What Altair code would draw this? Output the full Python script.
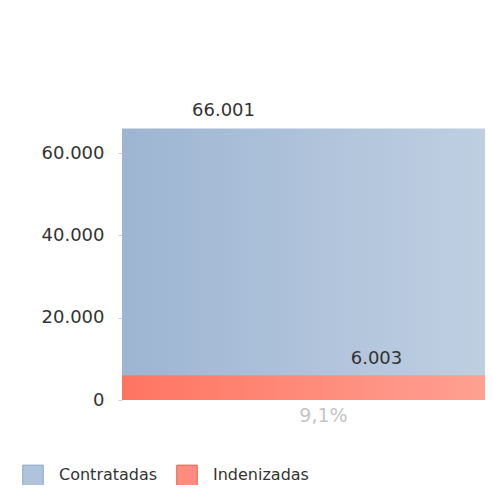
import altair as alt
import pandas as pd

series = ["Contratadas", "Indenizadas"]
values = [66001, 6003]
value_labels = ["66.001", "6.003"]
pct_label = ["9,1%"]
group = ["g"]
y_ticks = [0, 20000, 40000, 60000]

legend_fill = ["#afc3dc", "#ff8c7e"]
legend_stroke = ["#8ea6c6", "#e0604f"]

df = pd.DataFrame({"grp": group * len(series), "series": series,
                   "value": values, "label": value_labels})
df_pct = pd.DataFrame({"grp": group, "value": [0], "label": pct_label})

FONT = "DejaVu Sans"

x_enc = alt.X("grp:N", axis=None,
              scale=alt.Scale(paddingInner=0, paddingOuter=0))
y_scale = alt.Scale(domain=[0, 70000], nice=False)
y_enc = alt.Y("value:Q", scale=y_scale, title=None,
              axis=alt.Axis(values=y_ticks, grid=False, domain=False,
                            tickSize=4, tickColor="#d0d0d0", labelPadding=14,
                            labelFont=FONT, labelFontSize=18, labelColor="#333333",
                            labelExpr="replace(format(datum.value, ',d'), ',', '.')"))
y_plain = alt.Y("value:Q", scale=y_scale)

blue_grad = alt.Gradient(gradient="linear", x1=0, x2=1, y1=0, y2=0,
                         stops=[alt.GradientStop(color="#9db5d2", offset=0),
                                alt.GradientStop(color="#bfcfe2", offset=1)])
red_grad = alt.Gradient(gradient="linear", x1=0, x2=1, y1=0, y2=0,
                        stops=[alt.GradientStop(color="#ff7461", offset=0),
                               alt.GradientStop(color="#ffa092", offset=1)])

base = alt.Chart(df)

blue = base.transform_filter(alt.datum.series == series[0]).mark_bar(
    fill=blue_grad, width=alt.RelativeBandSize(band=1)).encode(x=x_enc, y=y_enc)
red = base.transform_filter(alt.datum.series == series[1]).mark_bar(
    fill=red_grad, width=alt.RelativeBandSize(band=1)).encode(x=x_enc, y=y_plain)

leg_kw = dict(title=None, orient="none", legendX=-100, legendY=352,
              direction="horizontal", symbolType="square",
              symbolSize=420, symbolOpacity=1, symbolStrokeWidth=1,
              labelFont=FONT, labelFontSize=16, labelColor="#333333",
              labelOffset=15, columnPadding=16, padding=0)

legend_layer = base.mark_point(shape="square", filled=True, opacity=0).encode(
    x=x_enc, y=y_plain,
    fill=alt.Fill("series:N", scale=alt.Scale(domain=series, range=legend_fill),
                  legend=alt.Legend(**leg_kw)),
    stroke=alt.Stroke("series:N", scale=alt.Scale(domain=series, range=legend_stroke),
                      legend=alt.Legend(**leg_kw)),
)

lab_blue = base.transform_filter(alt.datum.series == series[0]).mark_text(
    baseline="bottom", dy=-8, dx=-80, font=FONT, fontSize=18, color="#333333").encode(
    x=x_enc, y=y_plain, text="label:N")
lab_red = base.transform_filter(alt.datum.series == series[1]).mark_text(
    baseline="bottom", dy=-7, dx=73, font=FONT, fontSize=18, color="#333333").encode(
    x=x_enc, y=y_plain, text="label:N")

pct = alt.Chart(df_pct).mark_text(baseline="top", dy=7, dx=20, font=FONT, fontSize=19,
                                  color="#c4c4c4").encode(
    x=x_enc, y=y_plain, text="label:N")

chart = alt.layer(blue, red, legend_layer, lab_blue, lab_red, pct).properties(
    width=363, height=288,
    autosize=alt.AutoSizeParams(type="none"),
    padding={"left": 114, "top": 104, "right": 0, "bottom": 85},
).configure_view(stroke=None)

chart.save("out.html", embed_options={"renderer": "svg", "actions": False})
